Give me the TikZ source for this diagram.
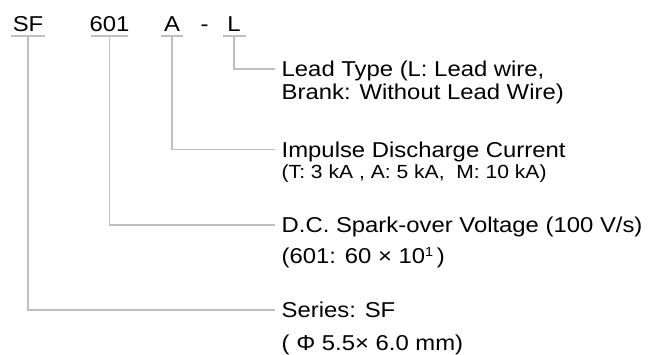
\documentclass[tikz,border=0pt]{standalone}
\usepackage{fontspec}
\setmainfont[FakeStretch=1.11]{Liberation Sans}
\definecolor{linegray}{HTML}{BFBFBF}
\begin{document}
\begin{tikzpicture}[x=1pt,y=1pt,
  lbl/.style={font=\fontsize{21.5}{24}\selectfont, inner sep=0pt, text height=15.4pt, text depth=0pt, anchor=base},
  desc/.style={font=\fontsize{21.5}{24}\selectfont, inner xsep=6.5pt, inner ysep=0pt, text height=15.4pt, text depth=0pt, anchor=base west},
  descsmall/.style={font=\fontsize{19}{21}\selectfont, inner xsep=6.5pt, inner ysep=0pt, anchor=base west},
  uline/.style={draw=linegray, line width=2pt},
  conn/.style={draw=linegray, line width=1.6pt},
]
\useasboundingbox (0,0) rectangle (648,-355);
% top code labels
\node[lbl] (sf) at (28,-32) {SF};
\node[lbl] (n601) at (109.5,-32) {601};
\node[lbl] (na) at (172,-32) {A};
\node[lbl] (dash) at (204.5,-32) {-};
\node[lbl] (nl) at (234,-32) {L};
% underlines
\draw[uline] ([xshift=-17pt,yshift=-4pt]sf.south) -- ([xshift=17pt,yshift=-4pt]sf.south);
\draw[uline] ([xshift=-18.8pt,yshift=-4pt]n601.south) -- ([xshift=18.8pt,yshift=-4pt]n601.south);
\draw[uline] ([xshift=-11.2pt,yshift=-4pt]na.south) -- ([xshift=11.2pt,yshift=-4pt]na.south);
\draw[uline] ([xshift=-11.5pt,yshift=-4pt]nl.south) -- ([xshift=11.5pt,yshift=-4pt]nl.south);
% descriptions
\node[desc] (lead1) at (275,-77) {Lead Type (L: Lead wire,};
\node[desc] (lead2) at (275,-100) {Brank: Without Lead Wire)};
\node[desc] (imp1) at (275,-157.3) {Impulse Discharge Current};
\node[descsmall] (imp2) at (275,-178.3) {(T: 3 kA , A: 5 kA,\ \ M: 10 kA)};
\node[desc] (dc1) at (275,-232.7) {D.C. Spark-over Voltage (100 V/s)};
\node[desc] (dc2) at (275,-264) {(601: 60 × 10\raisebox{7.5pt}{\fontsize{13}{13}\selectfont 1}\,)};
\node[desc] (ser1) at (275,-318) {Series: SF};
\node[desc] (ser2) at (275,-350) {( Φ 5.5× 6.0 mm)};
% connectors
\draw[conn] ([yshift=-4pt]nl.south) |- (lead1.west);
\draw[conn] ([yshift=-4pt]na.south) |- (imp1.west);
\draw[conn] ([yshift=-4pt]n601.south) |- (dc1.west);
\draw[conn] ([yshift=-4pt]sf.south) |- (ser1.west);
\end{tikzpicture}
\end{document}
